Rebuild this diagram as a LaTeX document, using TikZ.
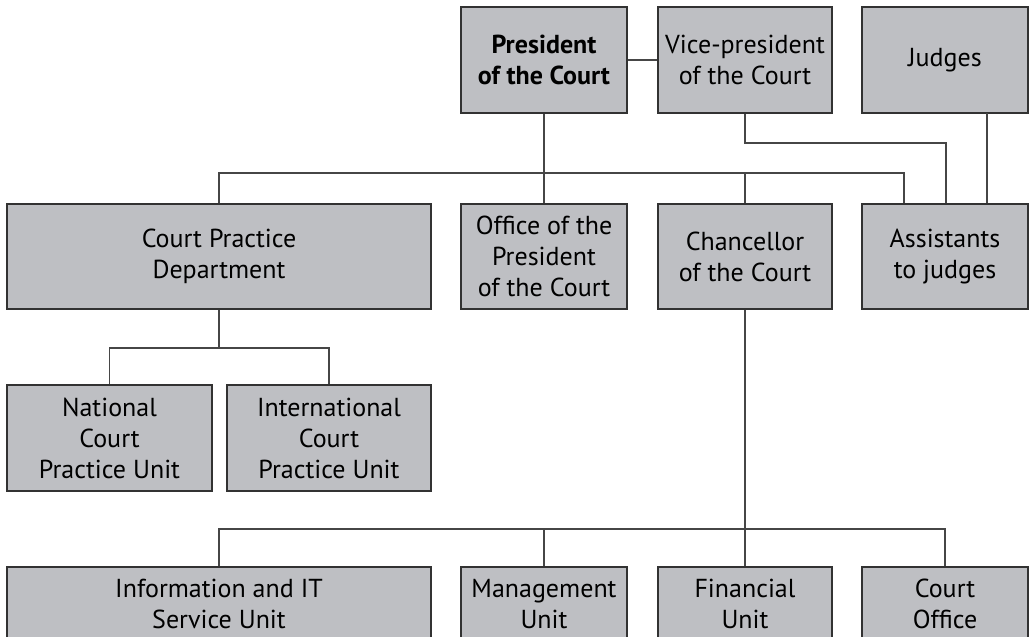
\documentclass[tikz,border=0pt]{standalone}
\usepackage{fontspec}
\setmainfont{PT Sans}
\definecolor{boxfill}{RGB}{190,191,195}
\definecolor{boxline}{RGB}{50,50,50}
\definecolor{conn}{RGB}{70,70,70}
\tikzset{
  orgbox/.style={draw=boxline, line width=1.5pt, fill=boxfill, align=center,
    inner sep=0pt, font=\fontsize{26}{31}\selectfont},
  link/.style={draw=conn, line width=1.2pt},
}
\newcommand\orgnode[6]{%
  \node[orgbox, minimum width={(#3-#2)*1pt}, minimum height={(#5-#4)*1pt}]
    (#1) at ({(#2+#3)/2},{-(#4+#5)/2}) {#6};}
\begin{document}
\begin{tikzpicture}[x=1pt,y=1pt]
\useasboundingbox (0,0) rectangle (1029,-637);
\clip (0,0) rectangle (1029,-637);
\fill[white] (0,0) rectangle (1029,-637);
% top row
\orgnode{pres}{461}{627}{7}{113}{\bfseries President\\\bfseries of the Court}
\orgnode{vice}{658}{832}{7}{113}{Vice-president\\of the Court}
\orgnode{judges}{862}{1028}{7}{113}{Judges}
% second row
\orgnode{cpd}{7}{431}{204}{309}{Court Practice\\Department}
\orgnode{office}{461}{627}{204}{309}{Office of the\\President\\of the Court}
\orgnode{chanc}{658}{832}{204}{309}{Chancellor\\of the Court}
\orgnode{assist}{862}{1028}{204}{309}{Assistants\\to judges}
% third row
\orgnode{nat}{7}{212}{385}{491}{National\\Court\\Practice Unit}
\orgnode{intl}{227}{431}{385}{491}{International\\Court\\Practice Unit}
% bottom row
\orgnode{info}{7}{431}{567}{641}{Information and IT\\Service Unit}
\orgnode{mgmt}{461}{627}{567}{641}{Management\\Unit}
\orgnode{fin}{658}{832}{567}{641}{Financial\\Unit}
\orgnode{coff}{862}{1028}{567}{641}{Court\\Office}
% helper coordinates
\coordinate (h1) at (904,-173);
\coordinate (v1) at (946,-143);
\coordinate (j1) at (987,-113);
\coordinate (h2) at (0,-348);
\coordinate (h3) at (0,-529);
% connectors
\draw[link] (pres.east) -- (vice.west);
\draw[link] (pres.south) -- (office.north);
\draw[link] (cpd.north) |- (h1) -- (h1 |- assist.north);
\draw[link] (chanc.north) -- (chanc.north |- h1);
\draw[link] (vice.south) |- (v1) -- (v1 |- assist.north);
\draw[link] (j1) -- (j1 |- assist.north);
\draw[link] (cpd.south) -- (cpd.south |- h2);
\draw[link] (nat.north) |- (h2 -| intl.north) -- (intl.north);
\draw[link] (chanc.south) -- (fin.north);
\draw[link] (info.north) |- (h3 -| coff.north) -- (coff.north);
\draw[link] (mgmt.north) -- (mgmt.north |- h3);
\end{tikzpicture}
\end{document}
